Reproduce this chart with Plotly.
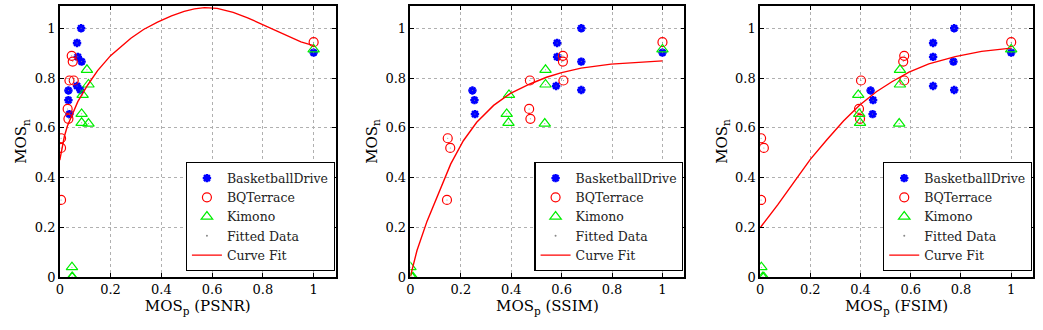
import plotly.graph_objects as go

# ---------------- data ----------------
bd_y = [1.0, 0.941, 0.885, 0.866, 0.768, 0.752, 0.750, 0.711, 0.655, 0.902]
bd_x_psnr = [0.084, 0.068, 0.071, 0.086, 0.068, 0.081, 0.034, 0.034, 0.038, 1.0]
bd_x_ssim = [0.678, 0.582, 0.582, 0.678, 0.578, 0.678, 0.246, 0.254, 0.256, 1.0]
bd_x_fsim = [0.773, 0.689, 0.689, 0.770, 0.689, 0.773, 0.440, 0.450, 0.448, 1.0]

bq_y = [0.889, 0.866, 0.790, 0.790, 0.676, 0.636, 0.558, 0.519, 0.310, 0.944]
bq_x_psnr = [0.047, 0.051, 0.038, 0.055, 0.031, 0.034, 0.005, 0.005, 0.005, 1.0]
bq_x_ssim = [0.605, 0.605, 0.607, 0.474, 0.471, 0.476, 0.148, 0.158, 0.145, 1.0]
bq_x_fsim = [0.574, 0.570, 0.574, 0.402, 0.394, 0.398, 0.004, 0.015, 0.004, 1.0]

ki_y = [0.833, 0.774, 0.732, 0.656, 0.620, 0.617, 0.040, 0.0, 0.0, 0.915]
ki_x_psnr = [0.107, 0.113, 0.090, 0.086, 0.086, 0.113, 0.048, 0.048, 0.050, 1.0]
ki_x_ssim = [0.536, 0.536, 0.391, 0.382, 0.389, 0.533, 0.0, 0.005, 0.010, 1.0]
ki_x_fsim = [0.557, 0.557, 0.391, 0.395, 0.398, 0.554, 0.005, 0.010, 0.015, 1.0]

fit_psnr_x = [0.0, 0.008, 0.018, 0.03, 0.044, 0.071, 0.11, 0.149, 0.2, 0.24, 0.28, 0.33, 0.385, 0.44,
              0.49, 0.53, 0.57, 0.62, 0.683, 0.74, 0.80, 0.85, 0.906, 0.95, 1.0]
fit_psnr_y = [0.47, 0.52, 0.565, 0.607, 0.643, 0.705, 0.772, 0.83, 0.89, 0.927, 0.96, 0.995, 1.025, 1.05,
              1.068, 1.078, 1.083, 1.08, 1.064, 1.042, 1.014, 0.99, 0.963, 0.945, 0.93]
fit_ssim_x = [0.0, 0.026, 0.066, 0.118, 0.16, 0.21, 0.263, 0.33, 0.395, 0.474, 0.54, 0.60, 0.677, 0.796, 0.9, 1.0]
fit_ssim_y = [0.003, 0.107, 0.225, 0.356, 0.455, 0.548, 0.622, 0.69, 0.737, 0.776, 0.803, 0.822, 0.84, 0.856, 0.864, 0.869]
fit_fsim_x = [0.0, 0.07, 0.135, 0.2, 0.266, 0.332, 0.397, 0.463, 0.525, 0.593, 0.672, 0.777, 0.882, 1.0]
fit_fsim_y = [0.198, 0.29, 0.382, 0.473, 0.552, 0.627, 0.692, 0.745, 0.785, 0.824, 0.857, 0.886, 0.907, 0.92]

x_titles = ["(PSNR)", "(SSIM)", "(FSIM)"]
tick_vals = [0, 0.2, 0.4, 0.6, 0.8, 1]
tick_text = ["0", "0.2", "0.4", "0.6", "0.8", "1"]

# ---------------- layout geometry ----------------
W, H = 1043, 330
x_px = [(56, 333), (408, 683), (759, 1033)]
y_top, y_bot = 6, 284
FONT = "DejaVu Serif"

fig = go.Figure()

panels = [
    (bd_x_psnr, bq_x_psnr, ki_x_psnr, fit_psnr_x, fit_psnr_y),
    (bd_x_ssim, bq_x_ssim, ki_x_ssim, fit_ssim_x, fit_ssim_y),
    (bd_x_fsim, bq_x_fsim, ki_x_fsim, fit_fsim_x, fit_fsim_y),
]

for i, (bdx, bqx, kix, fx, fy) in enumerate(panels):
    n = "" if i == 0 else str(i + 1)
    xa, ya = "x" + n, "y" + n
    lg = "legend" + n
    fig.add_trace(go.Scatter(x=bdx, y=bd_y, mode="markers", name="BasketballDrive",
                             xaxis=xa, yaxis=ya, legend=lg,
                             marker=dict(symbol="asterisk-open", size=7, color="#0000ff",
                                         line=dict(color="#0000ff", width=2.4))))
    fig.add_trace(go.Scatter(x=bqx, y=bq_y, mode="markers", name="BQTerrace",
                             xaxis=xa, yaxis=ya, legend=lg,
                             marker=dict(symbol="circle-open", size=9, color="#ff0000",
                                         line=dict(color="#ff0000", width=1.2))))
    fig.add_trace(go.Scatter(x=kix, y=ki_y, mode="markers", name="Kimono",
                             xaxis=xa, yaxis=ya, legend=lg,
                             marker=dict(symbol="triangle-up-open", size=10, color="#00ee00",
                                         line=dict(color="#00ee00", width=1.2))))
    fig.add_trace(go.Scatter(x=bdx + bqx + kix, y=bd_y + bq_y + ki_y, mode="markers",
                             name="Fitted Data", xaxis=xa, yaxis=ya, legend=lg,
                             marker=dict(symbol="circle", size=1, color="#888888")))
    fig.add_trace(go.Scatter(x=fx, y=fy, mode="lines", name="Curve Fit",
                             xaxis=xa, yaxis=ya, legend=lg,
                             line=dict(color="#ff0000", width=1.4)))

    x0, x1 = x_px[i]
    axis_common = dict(showline=True, mirror="allticks", linecolor="black", linewidth=1.5,
                       ticks="inside", ticklen=4, tickcolor="black",
                       showgrid=True, gridcolor="#b0b0b0", griddash="dot", gridwidth=1,
                       zeroline=False, tickvals=tick_vals, ticktext=tick_text,
                       tickfont=dict(family=FONT, size=13, color="black"))
    fig.update_layout(**{
        "xaxis" + n: dict(domain=[x0 / W, x1 / W], anchor=ya, range=[0, 1.087],
                          title=dict(text="MOS<sub>p</sub> " + x_titles[i], standoff=2,
                                     font=dict(family=FONT, size=15, color="black")),
                          **axis_common),
        "yaxis" + n: dict(domain=[1 - y_bot / H, 1 - y_top / H], anchor=xa, range=[0, 1.09],
                          title=dict(text="MOS<sub>n</sub>", standoff=4,
                                     font=dict(family=FONT, size=15, color="black")),
                          **axis_common),
        lg: dict(x=(x1 - 1) / W, y=1 - (y_bot - 6) / H, xanchor="right", yanchor="bottom",
                 bgcolor="white", bordercolor="black", borderwidth=1.2,
                 font=dict(family=FONT, size=12.5, color="#222222"),
                 tracegroupgap=0, itemwidth=30),
    })

fig.update_layout(width=W, height=H, margin=dict(l=0, r=0, t=0, b=0),
                  paper_bgcolor="white", plot_bgcolor="white", showlegend=True,
                  font=dict(family=FONT))

fig.write_html("out.html")
